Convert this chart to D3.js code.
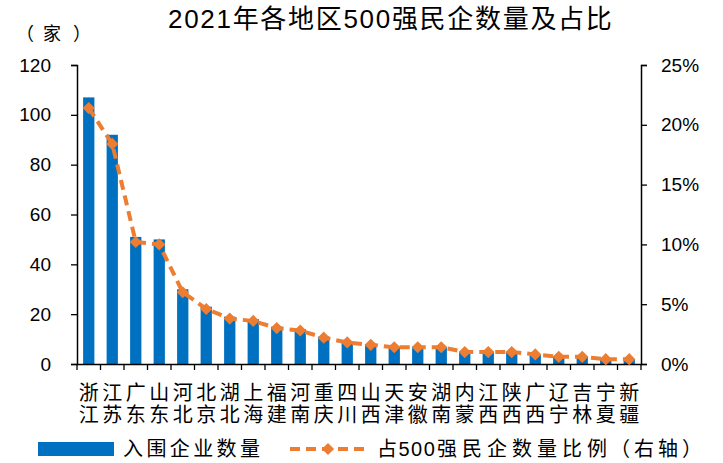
<!DOCTYPE html>
<html><head><meta charset="utf-8">
<script src="https://cdn.jsdelivr.net/npm/d3@7/dist/d3.min.js"></script>
<style>
body{margin:0;background:#fff;}
text{font-family:"Liberation Sans",Arial,"Noto Sans CJK SC",sans-serif;fill:#000;}
.cjk{font-family:"Liberation Sans","Noto Sans CJK SC",sans-serif;}
</style></head>
<body>
<svg id="c" width="723" height="463"></svg>
<script>
const categories = ["浙江","江苏","广东","山东","河北","北京","湖北","上海","福建","河南","重庆","四川","山西","天津","安徽","湖南","内蒙","江西","陕西","广西","辽宁","吉林","宁夏","新疆"];
const counts = [107,92,51,50,30,23,19,18,15,14,11,9,8,7,7,7,5,5,5,4,3,3,2,2];
const shares = [21.4,18.4,10.2,10.0,6.0,4.6,3.8,3.6,3.0,2.8,2.2,1.8,1.6,1.4,1.4,1.4,1.0,1.0,1.0,0.8,0.6,0.6,0.4,0.4];
const leftTicks = [0,20,40,60,80,100,120];
const rightTicks = [0,5,10,15,20,25];
const title = "2021年各地区500强民企数量及占比";
const unitParts = ["（","家","）"];
const legendBar = "入围企业数量";
const legendLineParts = ["占500","强民企数量比例","（右轴）"];

const svg = d3.select("#c");
const L = 77, R = 641, T = 65, B = 364;
const x = d3.scaleBand().domain(categories).range([L, R]).paddingInner(0.52).paddingOuter(0.26);
const xb = d3.scaleBand().domain(categories).range([L, R]);
const y = d3.scaleLinear().domain([0,120]).range([B, T]);
const y2 = d3.scaleLinear().domain([0,25]).range([B, T]);
const blue = "#0070C0", orange = "#ED7D31";

svg.append("text").attr("x",168).attr("y",28)
  .attr("class","cjk").style("font-size","26px").style("letter-spacing","1.7px").text(title);
const ut = svg.append("text").attr("y",40).attr("class","cjk").style("font-size","18px");
[16,43,73].forEach((px,i)=>ut.append("tspan").attr("x",px).text(unitParts[i]));

// bars
svg.append("g").selectAll("rect").data(counts).join("rect")
  .attr("x",(d,i)=>x(categories[i])).attr("width",x.bandwidth())
  .attr("y",d=>y(d)).attr("height",d=>B-y(d)).attr("fill",blue);

// axes
const ga = svg.append("g").attr("transform",`translate(${L},0)`)
  .call(d3.axisLeft(y).tickValues(leftTicks).tickSize(6).tickPadding(20));
const gr = svg.append("g").attr("transform",`translate(${R},0)`)
  .call(d3.axisRight(y2).tickValues(rightTicks).tickSize(6).tickPadding(14).tickFormat(d=>d+"%"));
[ga,gr].forEach(g=>{
  g.select(".domain").attr("stroke","#000").attr("stroke-width",1.5);
  g.selectAll(".tick line").attr("stroke","#000").attr("stroke-width",1.3);
  g.selectAll(".tick text").style("font-size","19px").attr("fill","#000");
});
const gb = svg.append("g").attr("transform",`translate(0,${B})`)
  .call(d3.axisBottom(xb).tickValues([]).tickSizeOuter(0));
gb.select(".domain").attr("stroke","#000").attr("stroke-width",1.5);
const bounds = categories.map((c)=>xb(c)).concat([R]);
gb.selectAll("line.tk").data(bounds).join("line").attr("class","tk")
  .attr("x1",d=>d).attr("x2",d=>d).attr("y1",0).attr("y2",6).attr("stroke","#000").attr("stroke-width",1.3);

// category labels: one text element per category, two stacked characters
const lab = svg.append("g");
categories.forEach(c=>{
  const cx = xb(c)+xb.bandwidth()/2;
  const t = lab.append("text").attr("class","cjk").attr("text-anchor","middle").style("font-size","20px");
  [...c].forEach((ch,j)=>{
    t.append("tspan").attr("x",cx).attr("y",400+j*22).text(ch);
  });
});

// line + markers
const cx = i => xb(categories[i])+xb.bandwidth()/2;
const line = d3.line().x((d,i)=>cx(i)).y(d=>y2(d));
svg.append("path").datum(shares).attr("d",line).attr("fill","none")
  .attr("stroke",orange).attr("stroke-width",4).attr("stroke-dasharray","10,6");
const diamond = d3.symbol().type(d3.symbolDiamond2).size(95);
svg.append("g").selectAll("path").data(shares).join("path")
  .attr("transform",(d,i)=>`translate(${cx(i)},${y2(d)})`).attr("d",diamond).attr("fill",orange);

// legend
svg.append("rect").attr("x",38).attr("y",442).attr("width",76).attr("height",14).attr("fill",blue);
svg.append("text").attr("x",123).attr("y",456).attr("class","cjk").style("font-size","20px").style("letter-spacing","3.4px").text(legendBar);
svg.append("line").attr("x1",290).attr("x2",367).attr("y1",449).attr("y2",449)
  .attr("stroke",orange).attr("stroke-width",4).attr("stroke-dasharray","10,6");
svg.append("path").attr("transform","translate(328,449)").attr("d",diamond).attr("fill",orange);
const lt = svg.append("text").attr("y",456).attr("class","cjk").style("font-size","20px");
lt.append("tspan").attr("x",377).style("letter-spacing","1.5px").text(legendLineParts[0]);
lt.append("tspan").attr("x",437).style("letter-spacing","5px").text(legendLineParts[1]);
lt.append("tspan").attr("x",610).style("letter-spacing","4px").text(legendLineParts[2]);
</script>
</body></html>
